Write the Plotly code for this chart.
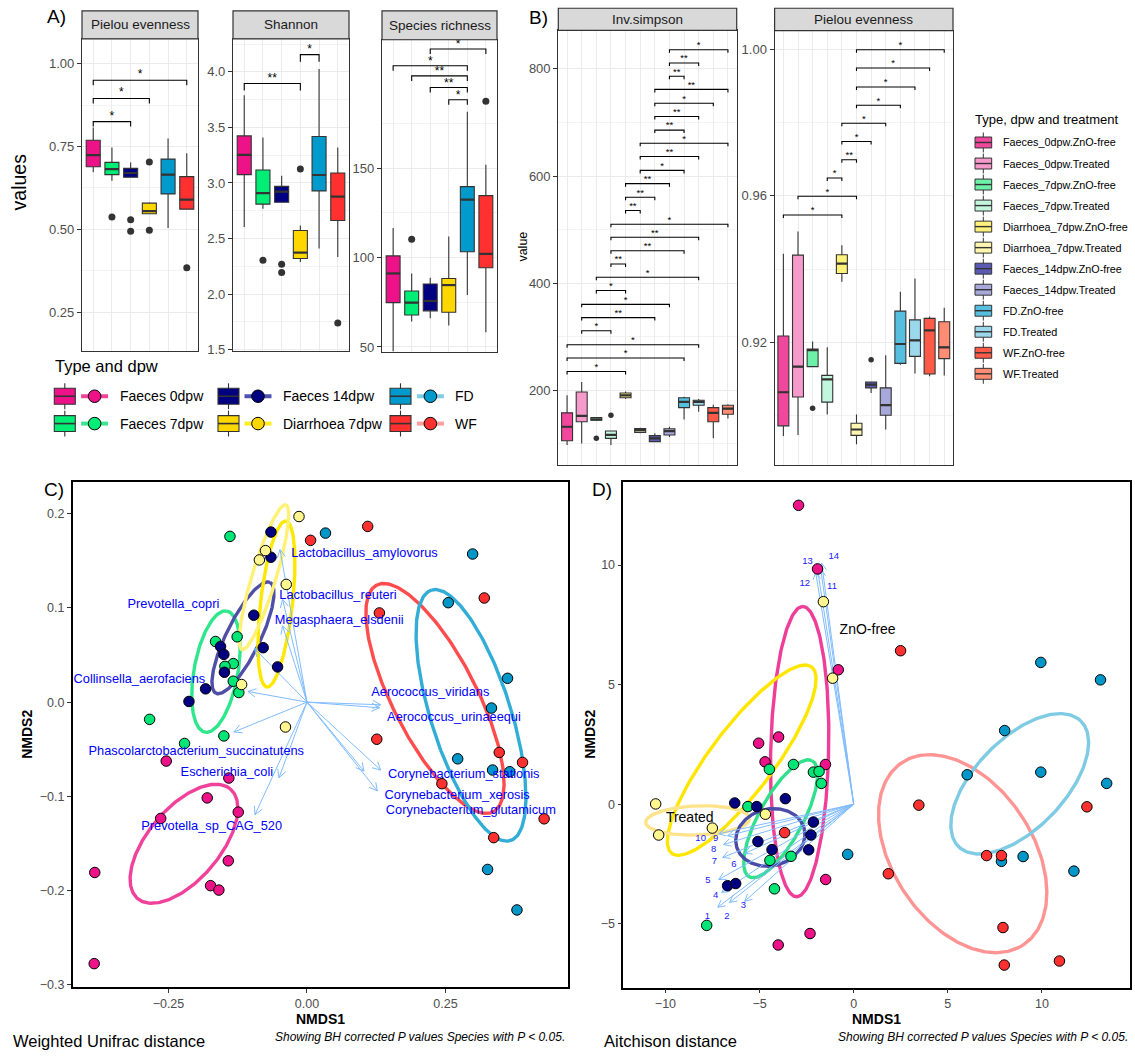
import numpy as np
import plotly.graph_objects as go

W, H = 1135, 1057
FONT = "Liberation Sans, Arial, Helvetica, sans-serif"
INK = "#333333"
GRID = "#EBEBEB"
GRID_MINOR = "#F3F3F3"
TICK_TXT = "#4D4D4D"

# ---------------- Panel A: alpha diversity by sample type ----------------
type_labels = ["Faeces 0dpw", "Faeces 7dpw", "Faeces 14dpw", "Diarrhoea 7dpw", "FD", "WF"]

pielou_q1 = [0.689, 0.665, 0.657, 0.547, 0.607, 0.561]
pielou_med = [0.724, 0.682, 0.670, 0.555, 0.665, 0.590]
pielou_q3 = [0.769, 0.702, 0.684, 0.579, 0.712, 0.659]
pielou_lo = [0.672, 0.647, 0.657, 0.547, 0.504, 0.561]
pielou_hi = [0.807, 0.747, 0.702, 0.582, 0.774, 0.730]
pielou_out_pos = [2, 3, 3, 4, 4, 6]
pielou_out_val = [0.537, 0.529, 0.494, 0.703, 0.497, 0.384]
pielou_sig = [(1, 3, 0.825, "*"), (1, 4, 0.895, "*"), (1, 6, 0.950, "*")]

shannon_q1 = [3.075, 2.810, 2.827, 2.320, 2.929, 2.663]
shannon_med = [3.254, 2.908, 2.922, 2.374, 3.072, 2.878]
shannon_q3 = [3.424, 3.117, 2.970, 2.573, 3.418, 3.090]
shannon_lo = [2.604, 2.768, 2.827, 2.290, 2.410, 2.335]
shannon_hi = [3.790, 3.410, 3.066, 2.618, 4.027, 3.320]
shannon_out_pos = [2, 3, 3, 4, 6]
shannon_out_val = [2.305, 2.269, 2.195, 3.126, 1.739]
shannon_sig = [(1, 4, 3.895, "**"), (4, 5, 4.155, "*")]

rich_q1 = [74.8, 67.9, 70.2, 69.4, 103.2, 94.3]
rich_med = [91.1, 74.8, 75.7, 84.6, 132.4, 102.0]
rich_q3 = [100.9, 81.3, 85.2, 88.3, 139.6, 134.6]
rich_lo = [47.6, 64.3, 66.1, 62.0, 79.1, 58.2]
rich_hi = [116.5, 91.0, 88.7, 111.8, 181.5, 151.8]
rich_out_pos = [2, 6]
rich_out_val = [110.2, 187.4]
rich_sig = [(4, 5, 188.2, "*"), (3, 5, 195.0, "**"), (2, 5, 201.5, "**"),
            (1, 5, 207.2, "*"), (3, 6, 216.5, "*")]

# ---------------- Panel B: alpha diversity by type, dpw and treatment ----------------
treat_labels = ["Faeces_0dpw.ZnO-free", "Faeces_0dpw.Treated", "Faeces_7dpw.ZnO-free",
                "Faeces_7dpw.Treated", "Diarrhoea_7dpw.ZnO-free", "Diarrhoea_7dpw.Treated",
                "Faeces_14dpw.ZnO-free", "Faeces_14dpw.Treated", "FD.ZnO-free", "FD.Treated",
                "WF.ZnO-free", "WF.Treated"]

invs_q1 = [106.0, 141.3, 144.4, 110.4, 186.3, 121.5, 104.2, 116.7, 167.8, 172.2, 141.3, 155.5]
invs_med = [132.0, 152.4, 145.6, 116.7, 190.7, 125.9, 110.4, 124.0, 178.3, 178.3, 158.0, 165.9]
invs_q3 = [158.0, 196.9, 149.3, 124.0, 195.0, 128.9, 115.4, 128.3, 186.3, 181.5, 167.8, 172.2]
invs_lo = [98.0, 101.0, 143.0, 98.0, 184.0, 120.0, 103.0, 113.0, 145.6, 159.9, 110.4, 147.4]
invs_hi = [190.7, 215.4, 150.0, 125.0, 198.0, 130.0, 120.0, 132.0, 188.0, 184.0, 173.0, 174.0]
invs_out_pos = [3, 4]
invs_out_val = [110.4, 153.7]
invs_sig = [(1, 5, 235.3, "*"), (1, 9, 260.5, "*"), (1, 10, 285.2, "*"), (2, 4, 311.1, "*"),
            (2, 7, 335.8, "**"), (2, 8, 360.5, "*"), (3, 5, 386.4, "*"), (3, 10, 411.1, "*"),
            (4, 5, 435.8, "**"), (4, 9, 460.5, "**"), (4, 10, 485.8, "**"), (4, 12, 509.9, "*"),
            (5, 6, 535.8, "**"), (5, 7, 560.5, "**"), (5, 8, 585.8, "**"), (6, 9, 610.5, "*"),
            (6, 10, 636.4, "**"), (6, 12, 661.1, "*"), (7, 9, 685.8, "**"), (7, 10, 711.1, "**"),
            (7, 11, 735.8, "*"), (7, 12, 761.7, "**"), (8, 9, 786.4, "**"), (8, 10, 811.1, "**"),
            (8, 12, 835.8, "*")]

pielb_q1 = [0.8971, 0.9050, 0.9133, 0.9036, 0.9388, 0.8945, 0.9075, 0.9000, 0.9142, 0.9161, 0.9113, 0.9155]
pielb_med = [0.9063, 0.9133, 0.9178, 0.9098, 0.9415, 0.8961, 0.9084, 0.9028, 0.9195, 0.9205, 0.9232, 0.9186]
pielb_q3 = [0.9217, 0.9438, 0.9181, 0.9109, 0.9439, 0.8978, 0.9091, 0.9075, 0.9285, 0.9261, 0.9265, 0.9256]
pielb_lo = [0.8943, 0.8946, 0.9133, 0.9002, 0.9365, 0.8921, 0.9061, 0.8961, 0.9138, 0.9114, 0.9107, 0.9109]
pielb_hi = [0.9442, 0.9503, 0.9202, 0.9186, 0.9465, 0.9002, 0.9091, 0.9164, 0.9338, 0.9374, 0.9270, 0.9294]
pielb_out_pos = [3, 7]
pielb_out_val = [0.9019, 0.9152]
pielb_sig = [(1, 5, 0.9548, "*"), (2, 6, 0.9599, "*"), (4, 5, 0.9649, "*"), (5, 6, 0.9699, "**"),
             (5, 7, 0.9749, "*"), (5, 8, 0.9799, "*"), (6, 9, 0.9848, "*"), (6, 10, 0.9898, "*"),
             (6, 11, 0.9950, "*"), (6, 12, 1.0000, "*")]

# ---------------- Panel C: NMDS on weighted UniFrac ----------------
c_nmds1 = [
    [-0.254, -0.141, -0.180, -0.124, -0.264, -0.142, -0.174, -0.159, -0.383, -0.384],
    [-0.139, -0.126, -0.165, -0.133, -0.148, -0.133, -0.123, -0.284, -0.150, -0.221],
    [-0.065, -0.065, -0.096, -0.156, -0.150, -0.079, -0.149, -0.053, -0.183, -0.213],
    [-0.0144, -0.0749, -0.0859, -0.0374, -0.118, -0.0388],
    [0.0334, 0.299, 0.255, 0.362, 0.333, 0.272, 0.335, 0.366, 0.326, 0.379],
    [0.0065, 0.1096, 0.320, 0.1307, 0.126, 0.347, 0.389, 0.2435, 0.428, 0.337],
]
c_nmds2 = [
    [-0.0626, -0.0806, -0.1017, -0.1168, -0.1235, -0.1685, -0.1949, -0.1996, -0.1809, -0.2777],
    [0.176, 0.0694, 0.0644, 0.0409, 0.038, 0.0222, 0.0102, -0.0183, -0.0359, -0.0439],
    [0.1806, 0.1539, 0.0923, 0.0591, 0.0507, 0.0578, 0.0317, 0.0374, 0.0141, 0.0007],
    [0.1971, 0.1609, 0.151, 0.125, 0.0187, -0.0264],
    [0.1795, 0.1573, 0.1056, 0.0253, -0.0063, -0.0602, -0.0721, -0.0739, -0.1777, -0.2207],
    [0.1718, 0.1866, 0.1106, 0.0947, -0.0394, -0.0534, -0.064, -0.0866, -0.1239, -0.1439],
]
# confidence ellipses: centre and two conjugate semi-axis vectors
c_ell_cx = [-0.222, -0.1643, -0.1155, -0.0551, -0.0776, 0.2310, 0.2960]
c_ell_cy = [-0.1504, 0.0324, 0.0683, 0.1042, 0.1327, 0.0039, -0.0140]
c_ell_ax = [0.0835, 0.0195, 0.0487, 0.0171, 0.0394, -0.1049, -0.0713]
c_ell_ay = [0.0583, 0.0644, 0.0589, 0.0882, 0.0769, 0.1204, 0.1330]
c_ell_bx = [0.0498, 0.0391, 0.0276, 0.0287, 0.0208, 0.0675, 0.0689]
c_ell_by = [-0.0244, -0.0040, -0.0078, -0.0019, -0.0036, 0.0202, 0.0127]

c_species = ["Lactobacillus_amylovorus", "Lactobacillus_reuteri", "Megasphaera_elsdenii",
             "Prevotella_copri", "Collinsella_aerofaciens", "Aerococcus_viridans",
             "Aerococcus_urinaeequi", "Phascolarctobacterium_succinatutens", "Escherichia_coli",
             "Prevotella_sp_CAG_520", "Corynebacterium_stationis", "Corynebacterium_xerosis",
             "Corynebacterium_glutamicum"]
c_vec_x = [-0.0487, -0.044, -0.044, -0.0946, -0.1065, 0.133, 0.131, -0.132, -0.0505, -0.0939, 0.133, 0.127, 0.1029]
c_vec_y = [0.162, 0.109, 0.081, 0.057, 0.0113, -0.0028, -0.006, -0.0317, -0.0803, -0.1196, -0.0721, -0.0943, -0.0732]
c_lab_x = [0.1038, 0.056, 0.0583, -0.241, -0.3025, 0.2226, 0.2653, -0.1998, -0.1446, -0.172, 0.283, 0.2711, 0.2958]
c_lab_y = [0.1573, 0.1127, 0.0863, 0.1029, 0.024, 0.0095, -0.0169, -0.0528, -0.0746, -0.1326, -0.0774, -0.0993, -0.1154]

# ---------------- Panel D: NMDS on Aitchison distance ----------------
d_nmds1 = [
    [-2.93, -1.92, -0.82, -5.05, -3.99, -4.71, -1.50, -1.49, -2.32, -4.01],
    [-4.48, -3.20, -2.14, -1.84, -1.72, -5.62, -4.45, -3.33, -4.21, -7.81],
    [-6.32, -5.15, -3.63, -2.14, -5.09, -2.27, -4.34, -2.39, -6.70, -6.27],
    [-1.61, -1.12, -10.52, -4.69, -10.36, -7.51],
    [9.94, 13.11, 8.02, -0.32, 6.03, 9.94, 13.44, 7.85, 9.00, 11.70],
    [2.49, -3.67, 1.84, 3.46, 12.39, 7.06, 7.85, 7.93, 8.00, 10.93],
]
d_nmds2 = [
    [12.50, 9.84, 5.62, 2.55, 2.81, 1.77, 1.66, -3.15, -5.41, -5.89],
    [1.46, 1.66, 1.34, 1.37, 0.87, -0.10, -2.35, -2.18, -3.54, -5.07],
    [0.05, -0.10, 0.23, -0.75, -1.56, -1.29, -1.90, -1.91, -3.41, -3.32],
    [8.47, 5.27, 0.01, -0.42, -1.29, -1.00],
    [5.93, 5.20, 3.08, -2.10, 1.23, 1.34, 0.87, -2.39, -2.19, -2.80],
    [6.42, -1.19, -2.91, -0.04, -0.11, -2.15, -2.15, -5.16, -6.73, -6.56],
]
d_ell_cx = [-2.87, -5.95, -8.29, -3.88, -4.43, 5.79, 8.82]
d_ell_cy = [2.20, 1.84, -0.68, -0.61, -1.39, -2.07, 0.85]
d_ell_ax = [0.17, 3.71, 2.76, 1.67, 1.81, 3.21, 3.23]
d_ell_ay = [6.07, 3.90, 0.083, 2.43, 0.33, -3.82, 2.64]
d_ell_bx = [1.54, 1.36, 0.03, 1.03, 0.32, 3.11, 1.72]
d_ell_by = [-0.025, -0.79, -0.61, -0.43, -1.16, 1.60, -1.29]

d_vec_id = ["1", "2", "3", "4", "5", "6", "7", "8", "9", "10", "11", "12", "13", "14"]
d_vec_x = [-7.22, -6.59, -5.79, -7.01, -7.17, -5.79, -6.96, -6.91, -6.70, -7.17, -1.75, -2.02, -1.97, -1.70]
d_vec_y = [-4.31, -4.11, -4.06, -3.69, -3.15, -2.06, -2.23, -1.69, -1.32, -1.24, 9.83, 9.70, 10.08, 10.08]
d_lab_x = [-7.77, -6.73, -5.86, -7.33, -7.74, -6.36, -7.40, -7.44, -7.33, -8.13, -1.15, -2.60, -2.45, -1.06]
d_lab_y = [-4.69, -4.69, -4.26, -3.84, -3.20, -2.51, -2.39, -1.91, -1.46, -1.46, 9.12, 9.22, 10.15, 10.36]
d_group_text = ["ZnO-free", "Treated"]
d_group_x = [0.74, -8.71]
d_group_y = [7.26, -0.60]

# ---------------- styling ----------------
type_fill = ["#EE1289", "#00EE76", "#000080", "#FFD700", "#009ACD", "#FF3030"]
type_line = ["#F0449A", "#3BE58F", "#5050B0", "#FFEE22", "#7FCCE5", "#FF9C9C"]
point_fill = ["#EE1289", "#00E676", "#000080", "#FFF68F", "#0096C8", "#FF3030"]
treat_fill = ["#F0489C", "#F59ACB", "#6DF0A8", "#C3F7DD", "#FFF27A", "#FFF6B0",
              "#5A5AB5", "#A8A8DA", "#56BEDF", "#9BD8EC", "#FF5A47", "#FF8C73"]
c_ell_color = ["#F0429A", "#2EE68C", "#4F4FA8", "#FFE800", "#FFF176", "#FF4D4D", "#32ADD6"]
d_ell_color = ["#EE3E98", "#FFE600", "#FFE38A", "#30E08A", "#4B4BA8", "#FF9494", "#7FCBE3"]
ARROW = "#80BCFF"

# panel placement in pixels: (left, right), (top, bottom), data ranges
PANELS = {
    1: dict(px=(82, 198), py=(39, 353), xr=(0.4, 6.6), yr=(0.133, 1.075)),
    2: dict(px=(233, 349), py=(39, 353), xr=(0.4, 6.6), yr=(1.488, 4.298)),
    3: dict(px=(382, 497), py=(40, 354), xr=(0.4, 6.6), yr=(47.2, 221.7)),
    4: dict(px=(558.3, 736.7), py=(30.5, 468), xr=(0.4, 12.6), yr=(60, 872)),
    5: dict(px=(774.6, 953), py=(30.7, 468), xr=(0.4, 12.6), yr=(0.8863, 1.00525)),
    6: dict(px=(72.7, 568), py=(485, 993), xr=(-0.4228, 0.4711), yr=(-0.3029, 0.2335)),
    7: dict(px=(623.3, 1130.4), py=(485, 993.3), xr=(-12.24, 14.70), yr=(-7.675, 13.466)),
}

fig = go.Figure()
shapes, annotations = [], []


def ax_ids(k):
    return ("x", "y") if k == 1 else (f"x{k}", f"y{k}")


def scale(k):
    p = PANELS[k]
    sx = (p["px"][1] - p["px"][0]) / (p["xr"][1] - p["xr"][0])
    sy = (p["py"][1] - p["py"][0]) / (p["yr"][1] - p["yr"][0])
    return sx, sy


def add_text(x, y, s, size, color="#000000", xanchor="left", yanchor="middle", angle=0):
    annotations.append(dict(text=s, x=x / W, y=1 - y / H, xref="paper", yref="paper",
                            showarrow=False, xanchor=xanchor, yanchor=yanchor, textangle=angle,
                            font=dict(size=size, color=color, family=FONT)))


def add_rect(x0, y0, x1, y1, fill, color, lw):
    shapes.append(dict(type="rect", xref="paper", yref="paper", x0=x0 / W, x1=x1 / W,
                       y0=1 - y1 / H, y1=1 - y0 / H, fillcolor=fill,
                       line=dict(color=color, width=lw), layer="above"))


def add_line(x0, y0, x1, y1, color, lw):
    shapes.append(dict(type="line", xref="paper", yref="paper", x0=x0 / W, x1=x1 / W,
                       y0=1 - y0 / H, y1=1 - y1 / H, line=dict(color=color, width=lw),
                       layer="above"))


def add_circle(cx, cy, r, fill, color, lw):
    shapes.append(dict(type="circle", xref="paper", yref="paper", x0=(cx - r) / W,
                       x1=(cx + r) / W, y0=1 - (cy + r) / H, y1=1 - (cy - r) / H,
                       fillcolor=fill, line=dict(color=color, width=lw), layer="above"))


def strip(k, label, top):
    x0, x1 = PANELS[k]["px"]
    y1 = PANELS[k]["py"][0]
    add_rect(x0, top, x1, y1, "#D9D9D9", INK, 1.2)
    add_text((x0 + x1) / 2, (top + y1) / 2, label, 13.5, "#1A1A1A", xanchor="center")


def box_panel(k, q1, med, q3, lo, hi, fills, out_pos, out_val, out_size):
    xa, ya = ax_ids(k)
    for i in range(len(q1)):
        fig.add_trace(go.Box(x=[i + 1], q1=[q1[i]], median=[med[i]], q3=[q3[i]],
                             lowerfence=[lo[i]], upperfence=[hi[i]], width=0.75,
                             fillcolor=fills[i], line=dict(color=INK, width=1.1),
                             whiskerwidth=0, boxpoints=False, xaxis=xa, yaxis=ya,
                             hoverinfo="skip"))
    mx, my = [], []
    for i, m in enumerate(med):
        mx += [i + 1 - 0.375, i + 1 + 0.375, None]
        my += [m, m, None]
    fig.add_trace(go.Scatter(x=mx, y=my, mode="lines", line=dict(color=INK, width=2.2),
                             xaxis=xa, yaxis=ya, hoverinfo="skip"))
    fig.add_trace(go.Scatter(x=out_pos, y=out_val, mode="markers",
                             marker=dict(color=INK, size=out_size), xaxis=xa, yaxis=ya,
                             hoverinfo="skip"))


def brackets(k, sig, tip_px, star_size, star_gap_px):
    xa, ya = ax_ids(k)
    _, sy = scale(k)
    tip = tip_px / sy
    xs, ys, tx, ty, tt = [], [], [], [], []
    for a, b, yv, lab in sig:
        xs += [a, a, b, b, None]
        ys += [yv - tip, yv, yv, yv - tip, None]
        tx.append((a + b) / 2)
        ty.append(yv + star_gap_px / sy)
        tt.append(lab)
    fig.add_trace(go.Scatter(x=xs, y=ys, mode="lines", line=dict(color="black", width=1.1),
                             xaxis=xa, yaxis=ya, hoverinfo="skip"))
    fig.add_trace(go.Scatter(x=tx, y=ty, mode="text", text=tt, textposition="middle center",
                             cliponaxis=False,
                             textfont=dict(size=star_size, color="black", family=FONT),
                             xaxis=xa, yaxis=ya, hoverinfo="skip"))


def ellipses(k, cx, cy, axv, ayv, bxv, byv, colors, lw):
    xa, ya = ax_ids(k)
    t = np.linspace(0, 2 * np.pi, 240)
    for i in range(len(cx)):
        ex = cx[i] + axv[i] * np.cos(t) + bxv[i] * np.sin(t)
        ey = cy[i] + ayv[i] * np.cos(t) + byv[i] * np.sin(t)
        fig.add_trace(go.Scatter(x=ex, y=ey, mode="lines", line=dict(color=colors[i], width=lw),
                                 xaxis=xa, yaxis=ya, hoverinfo="skip"))


def arrows(k, tips_x, tips_y, head_px, lw):
    xa, ya = ax_ids(k)
    sx, sy = scale(k)
    ang = np.radians(28)
    xs, ys = [], []
    for x1, y1 in zip(tips_x, tips_y):
        dx, dy = x1 * sx, y1 * sy
        L = np.hypot(dx, dy)
        ux, uy = dx / L, dy / L
        xs += [0, x1, None]
        ys += [0, y1, None]
        for s in (1, -1):
            c, sn = np.cos(s * ang), np.sin(s * ang)
            hx = -(ux * c - uy * sn) * head_px
            hy = -(ux * sn + uy * c) * head_px
            xs += [x1 + hx / sx, x1, None]
            ys += [y1 + hy / sy, y1, None]
    fig.add_trace(go.Scatter(x=xs, y=ys, mode="lines", line=dict(color=ARROW, width=lw),
                             xaxis=xa, yaxis=ya, hoverinfo="skip"))


def points(k, xs, ys, fills):
    xa, ya = ax_ids(k)
    for gx, gy, f in zip(xs, ys, fills):
        fig.add_trace(go.Scatter(x=gx, y=gy, mode="markers",
                                 marker=dict(size=10.5, color=f, line=dict(color="black", width=1)),
                                 xaxis=xa, yaxis=ya, hoverinfo="skip"))


# ---- panel A ----
box_panel(1, pielou_q1, pielou_med, pielou_q3, pielou_lo, pielou_hi, type_fill,
          pielou_out_pos, pielou_out_val, 7)
brackets(1, pielou_sig, 5, 12, 5)
box_panel(2, shannon_q1, shannon_med, shannon_q3, shannon_lo, shannon_hi, type_fill,
          shannon_out_pos, shannon_out_val, 7)
brackets(2, shannon_sig, 7, 12, 5)
box_panel(3, rich_q1, rich_med, rich_q3, rich_lo, rich_hi, type_fill,
          rich_out_pos, rich_out_val, 7)
brackets(3, rich_sig, 5, 12, 4)

# ---- panel B ----
box_panel(4, invs_q1, invs_med, invs_q3, invs_lo, invs_hi, treat_fill,
          invs_out_pos, invs_out_val, 5.5)
brackets(4, invs_sig, 3, 9.5, 4)
box_panel(5, pielb_q1, pielb_med, pielb_q3, pielb_lo, pielb_hi, treat_fill,
          pielb_out_pos, pielb_out_val, 5.5)
brackets(5, pielb_sig, 3, 9.5, 4)

# ---- panel C ----
ellipses(6, c_ell_cx, c_ell_cy, c_ell_ax, c_ell_ay, c_ell_bx, c_ell_by, c_ell_color, 3.4)
arrows(6, c_vec_x, c_vec_y, 9, 1)
points(6, c_nmds1, c_nmds2, point_fill)
fig.add_trace(go.Scatter(x=c_lab_x, y=c_lab_y, mode="text", text=c_species,
                         textfont=dict(size=12.8, color="#0000FF", family=FONT),
                         xaxis="x6", yaxis="y6", hoverinfo="skip"))

# ---- panel D ----
ellipses(7, d_ell_cx, d_ell_cy, d_ell_ax, d_ell_ay, d_ell_bx, d_ell_by, d_ell_color, 3.4)
arrows(7, d_vec_x, d_vec_y, 8, 1)
points(7, d_nmds1, d_nmds2, point_fill)
fig.add_trace(go.Scatter(x=d_lab_x, y=d_lab_y, mode="text", text=d_vec_id,
                         textfont=dict(size=9.5, color="#2020FF", family=FONT),
                         xaxis="x7", yaxis="y7", hoverinfo="skip"))
fig.add_trace(go.Scatter(x=d_group_x, y=d_group_y, mode="text", text=d_group_text,
                         textfont=dict(size=14, color="black", family=FONT),
                         xaxis="x7", yaxis="y7", hoverinfo="skip"))

# ---- axes ----
layout_axes = {}


def facet_axes(k, n, ytv, ytt, yminor):
    p = PANELS[k]
    xa, ya = ax_ids(k)
    layout_axes["xaxis" if k == 1 else f"xaxis{k}"] = dict(
        domain=[p["px"][0] / W, p["px"][1] / W], range=list(p["xr"]), anchor=ya,
        tickvals=list(range(1, n + 1)), showticklabels=False, ticks="",
        showgrid=True, gridcolor=GRID, gridwidth=1.1, zeroline=False,
        showline=True, mirror=True, linecolor=INK, linewidth=1.2, fixedrange=True)
    layout_axes["yaxis" if k == 1 else f"yaxis{k}"] = dict(
        domain=[1 - p["py"][1] / H, 1 - p["py"][0] / H], range=list(p["yr"]), anchor=xa,
        tickvals=ytv, ticktext=ytt, ticks="outside", ticklen=4, tickwidth=1.1, tickcolor=INK,
        tickfont=dict(size=13, color=TICK_TXT, family=FONT),
        showgrid=True, gridcolor=GRID, gridwidth=1.1, zeroline=False,
        minor=dict(tickvals=yminor, showgrid=True, gridcolor=GRID_MINOR, gridwidth=0.8, ticks=""),
        showline=True, mirror=True, linecolor=INK, linewidth=1.2, fixedrange=True)


def ord_axes(k, xtv, xfmt, ytv, yfmt):
    p = PANELS[k]
    xa, ya = ax_ids(k)
    common = dict(ticks="outside", ticklen=4, tickwidth=1.1, tickcolor=INK,
                  tickfont=dict(size=12.5, color=TICK_TXT, family=FONT), showgrid=False,
                  zeroline=False, showline=True, mirror=True, linecolor="black",
                  linewidth=1.5, fixedrange=True)
    layout_axes[f"xaxis{k}"] = dict(domain=[p["px"][0] / W, p["px"][1] / W],
                                    range=list(p["xr"]), anchor=ya, tickvals=xtv,
                                    tickformat=xfmt, **common)
    layout_axes[f"yaxis{k}"] = dict(domain=[1 - p["py"][1] / H, 1 - p["py"][0] / H],
                                    range=list(p["yr"]), anchor=xa, tickvals=ytv,
                                    tickformat=yfmt, **common)


facet_axes(1, 6, [0.25, 0.5, 0.75, 1.0], ["0.25", "0.50", "0.75", "1.00"], [0.375, 0.625, 0.875])
facet_axes(2, 6, [1.5, 2.0, 2.5, 3.0, 3.5, 4.0], ["1.5", "2.0", "2.5", "3.0", "3.5", "4.0"],
           [1.75, 2.25, 2.75, 3.25, 3.75, 4.25])
facet_axes(3, 6, [50, 100, 150], ["50", "100", "150"], [75, 125, 175])
facet_axes(4, 12, [200, 400, 600, 800], ["200", "400", "600", "800"], [100, 300, 500, 700])
facet_axes(5, 12, [0.92, 0.96, 1.00], ["0.92", "0.96", "1.00"], [0.90, 0.94, 0.98])
ord_axes(6, [-0.25, 0.0, 0.25], ".2f", [-0.3, -0.2, -0.1, 0.0, 0.1, 0.2], ".1f")
ord_axes(7, [-10, -5, 0, 5, 10], "d", [-5, 0, 5, 10], "d")

# ---- strips ----
strip(1, "Pielou evenness", 11)
strip(2, "Shannon", 11)
strip(3, "Species richness", 11)
strip(4, "Inv.simpson", 8.3)
strip(5, "Pielou evenness", 8.3)

# ---- panel letters and titles ----
add_text(45, 17, "A)", 19)
add_text(527, 18, "B)", 19)
add_text(42, 492, "C)", 19)
add_text(590, 492, "D)", 19)
add_text(18.5, 183, "values", 19.5, xanchor="center", angle=-90)
add_text(523, 248, "value", 12.5, xanchor="center", angle=-90)
add_text(320, 1025, "<b>NMDS1</b>", 14, xanchor="center")
add_text(876, 1025, "<b>NMDS1</b>", 14, xanchor="center")
add_text(27, 739, "<b>NMDS2</b>", 14, xanchor="center", angle=-90)
add_text(590, 739, "<b>NMDS2</b>", 14, xanchor="center", angle=-90)
add_text(11, 1046.7, "Weighted Unifrac distance", 16.5)
add_text(567, 1043.3, "<i>Showing BH corrected P values Species with P &lt; 0.05.</i>", 12,
         xanchor="right")
add_text(601.7, 1046.7, "Aitchison distance", 16.5)
add_text(1129.6, 1043.3, "<i>Showing BH corrected P values Species with P &lt; 0.05.</i>", 12,
         xanchor="right")

# ---- legend for panel A (boxplot key + ellipse/point key) ----
add_text(52.9, 367.7, "Type and dpw", 16.5)
leg_cols_box = [54.3, 218.0, 390.0]
leg_cols_circ = [94.6, 258.0, 430.4]
leg_cols_txt = [118.0, 281.0, 453.0]
leg_rows = [398.5, 426.0]
for i, lab in enumerate(type_labels):
    col, row = i // 2, i % 2
    bx, cy = leg_cols_box[col], leg_rows[row]
    add_line(bx + 10.5, cy - 13, bx + 10.5, cy + 13, INK, 1.1)
    add_rect(bx, cy - 8, bx + 21, cy + 8, type_fill[i], INK, 1.1)
    add_line(bx, cy, bx + 21, cy, INK, 1.6)
    cxp = leg_cols_circ[col]
    add_line(cxp - 13.5, cy, cxp + 13.5, cy, type_line[i], 4)
    add_circle(cxp, cy, 6.3, type_fill[i], "black", 1)
    add_text(leg_cols_txt[col], cy, lab, 14)

# ---- legend for panel B ----
add_text(973.3, 120, "Type, dpw and treatment", 13)
for i, lab in enumerate(treat_labels):
    cy = 143.3 + i * 21.15
    add_line(983.3, cy - 10, 983.3, cy + 10, INK, 1)
    add_rect(975, cy - 5.5, 991.7, cy + 5.5, treat_fill[i], INK, 1)
    add_line(975, cy, 991.7, cy, INK, 1.4)
    add_text(1000.7, cy, lab, 10.8)

fig.update_layout(
    width=W, height=H, margin=dict(l=0, r=0, t=0, b=0),
    paper_bgcolor="white", plot_bgcolor="white", showlegend=False, boxmode="overlay",
    font=dict(family=FONT), shapes=shapes, annotations=annotations, **layout_axes)

fig.write_html("out.html")
